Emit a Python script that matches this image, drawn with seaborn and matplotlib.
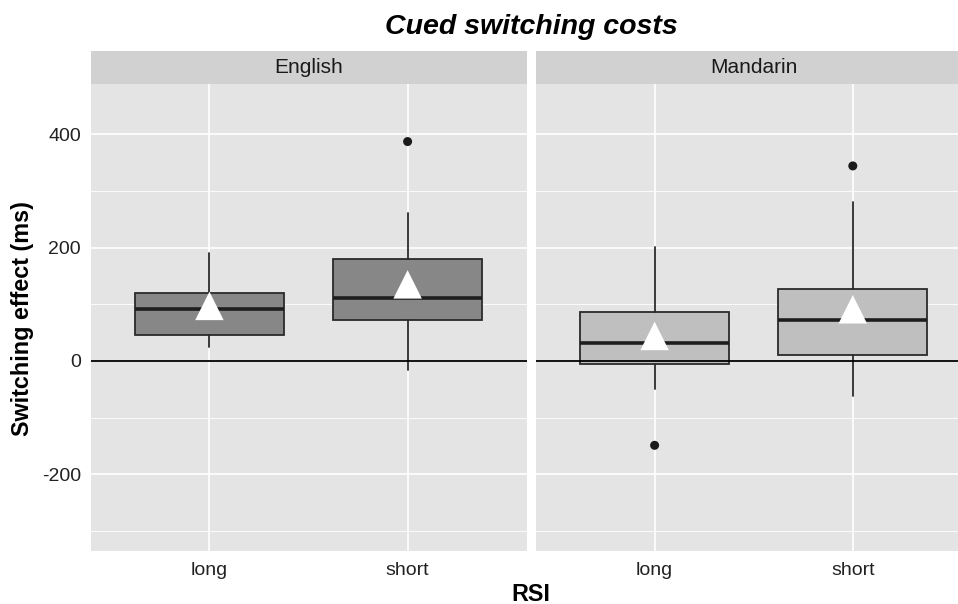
import matplotlib
matplotlib.use("Agg")
import matplotlib.pyplot as plt
import seaborn as sns
import pandas as pd

# ---- data ----
languages = ["English", "Mandarin"]
rsi_levels = ["long", "short"]

q1_vals = {"English": [45, 72], "Mandarin": [-6, 10]}
median_vals = {"English": [91, 111], "Mandarin": [32, 73]}
q3_vals = {"English": [119, 179], "Mandarin": [86, 127]}
whisker_low = {"English": [25, -16], "Mandarin": [-50, -62]}
whisker_high = {"English": [190, 261], "Mandarin": [201, 280]}
mean_vals = {"English": [97, 135], "Mandarin": [44, 91]}

outlier_lang = ["English", "Mandarin", "Mandarin"]
outlier_rsi = ["short", "long", "short"]
outlier_vals = [387, -149, 344]

fills = {"English": "#878787", "Mandarin": "#bfbfbf"}

y_major = [-200, 0, 200, 400]
y_minor = [-300, -100, 100, 300]

# ---- style ----
sns.set_theme(style="darkgrid")
plt.rcParams["font.family"] = ["Liberation Sans", "DejaVu Sans"]
plt.rcParams["axes.unicode_minus"] = False

fig = plt.figure(figsize=(9.58, 6.04), dpi=100)
fig.patch.set_facecolor("white")

panel_left = {"English": 0.0945, "Mandarin": 0.5592}
pw, pb, ph = 0.4551, 0.0882, 0.7722

out_df = pd.DataFrame({"language": outlier_lang, "rsi": outlier_rsi, "value": outlier_vals})

for lang in languages:
    ax = fig.add_axes([panel_left[lang], pb, pw, ph])
    ax.set_facecolor("#e4e4e4")
    ax.set_axisbelow(True)
    stats = []
    for j, r in enumerate(rsi_levels):
        stats.append(dict(q1=q1_vals[lang][j], med=median_vals[lang][j], q3=q3_vals[lang][j],
                          whislo=whisker_low[lang][j], whishi=whisker_high[lang][j],
                          fliers=[], label=r))
    ax.bxp(stats, positions=list(range(len(rsi_levels))), widths=0.75, patch_artist=True,
           showcaps=False, showfliers=False, manage_ticks=False,
           boxprops=dict(facecolor=fills[lang], edgecolor="#2a2a2a", linewidth=1.3),
           medianprops=dict(color="#1e1e1e", linewidth=2.6),
           whiskerprops=dict(color="#2a2a2a", linewidth=1.3), zorder=2)

    ax.axhline(0, color="black", linewidth=1.3, zorder=3)

    sub = out_df[out_df["language"] == lang].copy()
    sub["pos"] = sub["rsi"].map({r: i for i, r in enumerate(rsi_levels)})
    if len(sub):
        sns.scatterplot(data=sub, x="pos", y="value", ax=ax, color="#1a1a1a", s=42,
                        edgecolor="none", zorder=4, legend=False)

    mdf = pd.DataFrame({"pos": list(range(len(rsi_levels))), "mean": mean_vals[lang]})
    sns.scatterplot(data=mdf, x="pos", y="mean", ax=ax, marker="^", s=420, color="white",
                    edgecolor="none", zorder=5, legend=False)

    ax.set_xlim(-0.6, 1.6)
    ax.set_ylim(-335, 488)
    ax.set_xticks(range(len(rsi_levels)))
    ax.set_xticklabels(rsi_levels)
    ax.set_yticks(y_major)
    ax.set_yticks(y_minor, minor=True)
    ax.grid(which="major", color="white", linewidth=1.2)
    ax.grid(which="minor", axis="y", color="white", linewidth=0.6)
    ax.grid(which="minor", axis="x", visible=False)
    ax.set_xlabel("")
    ax.set_ylabel("")
    for s in ax.spines.values():
        s.set_visible(False)
    ax.tick_params(axis="x", length=4, width=1, color="#333333", labelsize=14,
                   labelcolor="#222222", pad=4)
    ax.tick_params(axis="y", which="minor", length=0)
    if lang == languages[0]:
        ax.tick_params(axis="y", which="major", length=4, width=1, color="#333333",
                       labelsize=14, labelcolor="#222222", pad=3)
    else:
        ax.tick_params(axis="y", which="major", length=0, labelleft=False)

    sax = fig.add_axes([panel_left[lang], pb + ph, pw, 0.0556])
    sax.set_facecolor("#d1d1d1")
    sax.set_xticks([])
    sax.set_yticks([])
    sax.grid(False)
    for s in sax.spines.values():
        s.set_visible(False)
    sax.text(0.5, 0.5, lang, transform=sax.transAxes, ha="center", va="center",
             fontsize=15, color="#1a1a1a")

fig.text(0.555, 0.955, "Cued switching costs", ha="center", va="center", fontsize=20.5,
         fontweight="bold", fontstyle="italic", color="black")
fig.text(0.024, 0.473, "Switching effect (ms)", rotation=90, ha="center", va="center",
         fontsize=16.8, fontweight="bold", color="black")
fig.text(0.554, 0.016, "RSI", ha="center", va="center", fontsize=16.8, fontweight="bold",
         color="black")

fig.savefig("out.png", dpi=100)
